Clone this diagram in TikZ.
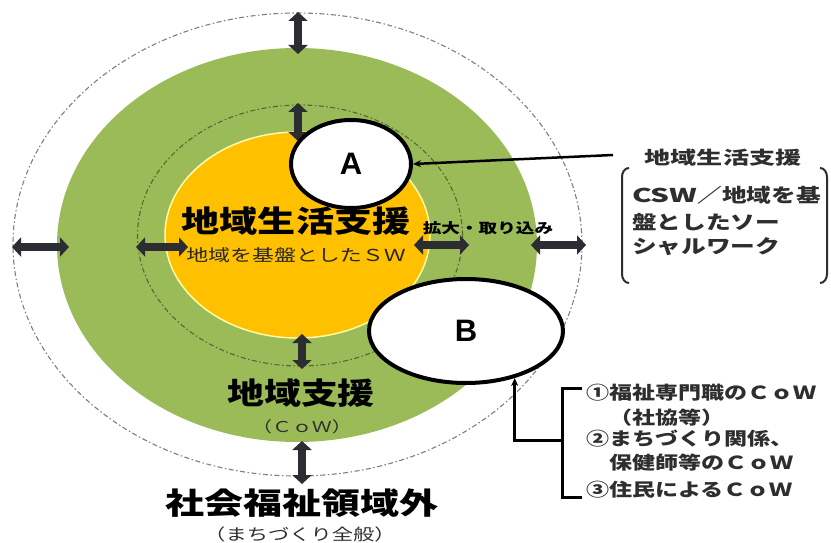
\documentclass[tikz,border=0pt]{standalone}
\usepackage{fontspec}
\usepackage{graphicx}
\usetikzlibrary{shapes.geometric,arrows.meta,calc}
\newfontfamily\jp{Noto Sans CJK JP}
\newfontfamily\lat{Liberation Sans}
\definecolor{grn}{HTML}{9BBB59}
\definecolor{org}{HTML}{FFC000}
\definecolor{arr}{HTML}{2B2D33}
\definecolor{txt}{HTML}{2E2E2E}
\definecolor{dashg}{HTML}{7F7F7F}
\definecolor{dashd}{HTML}{4F6A35}
\newcommand{\wx}[2]{\scalebox{#1}[1]{#2}}
\newcommand{\fs}[1]{\fontsize{#1}{#1}\selectfont}
\begin{document}
\begin{tikzpicture}[x=1pt,y=-1pt,
  ring/.style={ellipse, inner sep=0pt, outer sep=0pt},
  dbl/.style={arr, line width=8.5pt, {Triangle[length=9pt,width=19pt]}-{Triangle[length=9pt,width=19pt]}},
  bubble/.style={ellipse, draw=black, line width=4pt, fill=white, inner sep=0pt, font=\lat\bfseries\fs{31}},
  conn/.style={black, line width=2.5pt},
  lbl/.style={inner sep=0pt, outer sep=0pt},
  bigtxt/.style={lbl, font=\jp\bfseries\fs{30}, text=black},
  boxtxt/.style={lbl, anchor=west, font=\jp\bfseries\fs{19}, text=txt},
  listtxt/.style={lbl, anchor=west, font=\jp\bfseries\fs{18}, text=txt},
  brk/.style={txt, line width=2pt}
]
\useasboundingbox (0,0) rectangle (831,543);
\fill[white] (0,0) rectangle (831,543);

% rings
\node[ring, draw=dashg, line width=1.1pt, dash pattern=on 5pt off 2.5pt on 1.5pt off 2.5pt,
      minimum width=569pt, minimum height=463pt] (outer) at (297.5,244.5) {};
\node[ring, fill=grn, minimum width=480pt, minimum height=394pt] (green) at (297,245) {};
\node[ring, draw=dashd, line width=1.1pt, dash pattern=on 5pt off 2.5pt on 1.5pt off 2.5pt,
      minimum width=325pt, minimum height=261pt] (inner) at (300,235.5) {};
\node[ring, fill=org, draw=yellow!35, line width=1.5pt, minimum width=265pt, minimum height=206pt] (core) at (297.5,235) {};

% double arrows
\coordinate (t1) at (298,12);  \coordinate (t2) at (298,54);
\coordinate (t3) at (298,103); \coordinate (t4) at (298,141);
\coordinate (l1) at (12,247);  \coordinate (l2) at (69,247);
\coordinate (l3) at (136,247); \coordinate (l4) at (188,247);
\coordinate (r1) at (414,245); \coordinate (r2) at (469,245);
\coordinate (r3) at (531,245); \coordinate (r4) at (586,245);
\coordinate (b1) at (302,334); \coordinate (b2) at (302,369);
\coordinate (b3) at (302,441); \coordinate (b4) at (302,484);
\draw[dbl] (t1) -- (t2);
\draw[dbl] (t3) -- (t4);
\draw[dbl] (l1) -- (l2);
\draw[dbl] (l3) -- (l4);
\draw[dbl] (r1) -- (r2);
\draw[dbl] (r3) -- (r4);
\draw[dbl] (b1) -- (b2);
\draw[dbl] (b3) -- (b4);

% center texts
\node[bigtxt] (t-life) at (296,221) {\wx{1.27}{地域生活支援}};
\node[lbl, font=\jp\fs{16.5}, text=black!85] (t-sw) at (296,255) {\wx{1.33}{地域を基盤としたＳＷ}};
\node[lbl, font=\jp\bfseries\fs{14}, text=black] (t-exp) at (488,228) {\wx{1.33}{拡大・取り込み}};
\node[bigtxt] (t-com) at (301,393) {\wx{1.23}{地域支援}};
\node[lbl, font=\jp\fs{15}, text=txt] (t-cow) at (302,427) {\wx{1.33}{（ＣｏＷ）}};
\node[bigtxt] (t-out) at (302,503) {\wx{1.3}{社会福祉領域外}};
\node[lbl, font=\jp\fs{16}, text=txt] (t-town) at (300,534) {\wx{1.33}{（まちづくり全般）}};

% bubbles
\node[bubble, minimum width=120pt, minimum height=88pt] (A) at (351,164) {A};
\node[bubble, minimum width=194pt, minimum height=104pt] (B) at (466,331) {B};

% A connector and box
\coordinate (aend) at (613,155);
\draw[conn, -{Stealth[length=8pt,width=7pt]}] (aend) -- (A.east);
\node[lbl, font=\jp\bfseries\fs{18}, text=txt] (rtitle) at (723,158) {\wx{1.45}{地域生活支援}};
\draw[brk] (629,168) to[out=180,in=90] (622,177) -- (622,274) to[out=-90,in=180] (629,283);
\draw[brk] (820,168) to[out=0,in=90] (827,177) -- (827,274) to[out=-90,in=0] (820,283);
\node[boxtxt] (c1) at (632,195) {\wx{1.3}{\wx{1.2}{CSW}／地域を基}};
\node[boxtxt] (c2) at (632,222) {\wx{1.3}{盤としたソー}};
\node[boxtxt] (c3) at (632,247) {\wx{1.3}{シャルワーク}};

% B connector and list
\coordinate (bmid) at (562,440);
\draw[conn, line width=3pt] (582,388) -- (562,388) -- (562,497) -- (582,497);
\draw[conn, line width=3pt, -{Stealth[length=8pt,width=7pt]}] (bmid) -| (B.-44);
\node[listtxt] (p1) at (586,393) {\wx{1.28}{①福祉専門職のＣｏＷ}};
\node[listtxt] (p2) at (586,418) {\wx{1.28}{　（社協等）}};
\node[listtxt] (p3) at (586,439) {\wx{1.28}{②まちづくり関係、}};
\node[listtxt] (p4) at (586,463) {\wx{1.28}{　保健師等のＣｏＷ}};
\node[listtxt] (p5) at (586,490) {\wx{1.28}{③住民によるＣｏＷ}};
\end{tikzpicture}
\end{document}
